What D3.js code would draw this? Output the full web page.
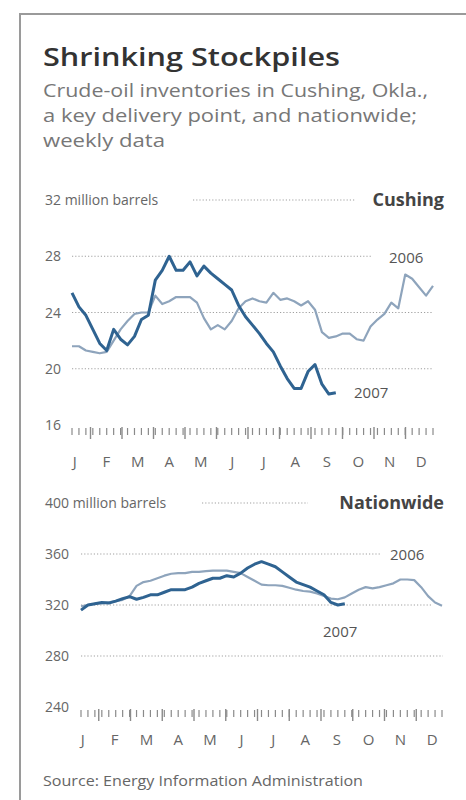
<!DOCTYPE html>
<html>
<head>
<meta charset="utf-8">
<script src="https://cdn.jsdelivr.net/npm/d3@7"></script>
<style>
  body { margin: 0; background: #fff; }
  svg { display: block; font-family: "Open Sans", "Noto Sans", sans-serif; }
</style>
</head>
<body>
<div id="chart"></div>
<script>
// month labels used on both panels
const months = ['J', 'F', 'M', 'A', 'M', 'J', 'J', 'A', 'S', 'O', 'N', 'D'];

// Cushing, million barrels, weekly (2006 full year, 2007 to late September)
const cushing2006 = [21.6, 21.6, 21.3, 21.2, 21.1, 21.2, 22.0, 22.8, 23.4, 23.9, 24.0, 24.0, 25.2,
  24.6, 24.8, 25.1, 25.1, 25.1, 24.7, 23.6, 22.8, 23.1, 22.8, 23.4, 24.3, 24.8, 25.0,
  24.8, 24.7, 25.4, 24.9, 25.0, 24.8, 24.5, 24.8, 24.2, 22.6, 22.2, 22.3, 22.5, 22.5,
  22.1, 22.0, 23.0, 23.5, 23.9, 24.7, 24.3, 26.7, 26.4, 25.8, 25.2, 25.9];
const cushing2007 = [25.4, 24.4, 23.8, 22.8, 21.8, 21.3, 22.8, 22.1, 21.7, 22.3, 23.5, 23.8, 26.3,
  27.0, 28.0, 27.0, 27.0, 27.6, 26.6, 27.3, 26.8, 26.4, 26.0, 25.6, 24.5, 23.7, 23.1,
  22.5, 21.8, 21.2, 20.2, 19.3, 18.6, 18.6, 19.8, 20.3, 18.9, 18.2, 18.3];
const cushingTicks = [16, 20, 24, 28, 32];

// Nationwide, million barrels, weekly
const nation2006 = [319, 320, 321, 321.5, 322, 323, 324, 327, 335, 338, 339, 341, 343,
  344.5, 345, 345, 346, 346, 346.5, 347, 347, 347, 346, 345, 342, 339, 336,
  335.5, 335.5, 335, 333.5, 332, 331, 330.5, 329, 327, 325, 324.5, 326, 329, 332,
  334, 333, 334, 335.5, 337, 340, 340, 339.5, 334, 327, 322, 319.5];
const nation2007 = [316, 320, 321, 322, 321.5, 323, 325, 326.5, 324.5, 326, 328, 328, 330,
  332, 332, 332, 334, 337, 339, 341, 341, 343, 342, 345, 349, 352, 354,
  352, 350, 346, 342, 338, 336, 334, 331, 328, 322, 320, 321];
const nationTicks = [240, 280, 320, 360, 400];

const W = 466, H = 800;
const COLOR_2006 = '#8ea4bc';
const COLOR_2007 = '#2f6391';

const svg = d3.select('#chart').append('svg')
  .attr('width', W)
  .attr('height', H);

// frame: grey rule along top and left
svg.append('path')
  .attr('d', `M20,${H} L20,14 L${W},14`)
  .attr('fill', 'none')
  .attr('stroke', '#9a9a9a')
  .attr('stroke-width', 2);

// headline + chatter
svg.append('text')
  .attr('x', 43).attr('y', 66)
  .attr('font-size', 26).attr('font-weight', 600)
  .attr('fill', '#333')
  .attr('textLength', 297).attr('lengthAdjust', 'spacingAndGlyphs')
  .text('Shrinking Stockpiles');

const chatter = ['Crude-oil inventories in Cushing, Okla.,', 'a key delivery point, and nationwide;', 'weekly data'];
const chatterW = [385, 374, 122];
svg.selectAll('.chatter')
  .data(chatter)
  .enter().append('text')
  .attr('class', 'chatter')
  .attr('x', 43)
  .attr('y', (d, i) => 97 + i * 25)
  .attr('font-size', 19)
  .attr('fill', '#777')
  .attr('textLength', (d, i) => chatterW[i]).attr('lengthAdjust', 'spacingAndGlyphs')
  .text(d => d);

// draws one panel
function drawPanel(cfg) {
  const g = svg.append('g');
  const x = d3.scaleLinear().domain([0, 52]).range(cfg.xRange);
  const y = d3.scaleLinear().domain(cfg.yDomain).range(cfg.yRange);
  const band = d3.scaleBand().domain(d3.range(12)).range(cfg.monthRange);
  const top = cfg.ticks[cfg.ticks.length - 1];

  // dotted gridlines (not the bottom one, it is the tick row)
  cfg.ticks.slice(1).forEach(t => {
    const ext = cfg.gridExt[t];
    g.append('line')
      .attr('x1', ext[0]).attr('x2', ext[1])
      .attr('y1', y(t)).attr('y2', y(t))
      .attr('stroke', '#a0a0a0')
      .attr('stroke-width', 1.2)
      .attr('stroke-dasharray', '1.2,2');
  });

  // y labels
  g.selectAll('.ylab')
    .data(cfg.ticks)
    .enter().append('text')
    .attr('x', 45)
    .attr('y', d => y(d) + 5)
    .attr('font-size', 14)
    .attr('fill', '#666')
    .text(d => d === top ? d + ' million barrels' : d);

  // panel name
  g.append('text')
    .attr('x', 444).attr('y', y(top) + 6)
    .attr('text-anchor', 'end')
    .attr('font-size', 18).attr('font-weight', 700)
    .attr('fill', '#444')
    .text(cfg.name);

  // weekly ticks and month ticks
  const base = y(cfg.ticks[0]);
  g.selectAll('.wk')
    .data(d3.range(53))
    .enter().append('line')
    .attr('x1', d => x(d)).attr('x2', d => x(d))
    .attr('y1', base + 3).attr('y2', base + 10)
    .attr('stroke', '#8a8a8a').attr('stroke-width', 1.2);
  g.selectAll('.mo')
    .data(d3.range(1, 12))
    .enter().append('line')
    .attr('x1', d => band(d)).attr('x2', d => band(d))
    .attr('y1', base + 2).attr('y2', base + 14)
    .attr('stroke', '#8a8a8a').attr('stroke-width', 1.4);

  // month letters
  g.selectAll('.mlab')
    .data(months)
    .enter().append('text')
    .attr('x', (d, i) => band(i) + band.bandwidth() / 2)
    .attr('y', base + cfg.monthDy)
    .attr('text-anchor', 'middle')
    .attr('font-size', 15)
    .attr('fill', '#666')
    .text(d => d);

  const line = d3.line()
    .x((d, i) => x(i))
    .y(d => y(d))
    .curve(d3.curveLinear);

  g.append('path')
    .attr('d', line(cfg.s2006))
    .attr('fill', 'none')
    .attr('stroke', COLOR_2006)
    .attr('stroke-width', 2.2)
    .attr('stroke-linejoin', 'round');

  g.append('path')
    .attr('d', line(cfg.s2007))
    .attr('fill', 'none')
    .attr('stroke', COLOR_2007)
    .attr('stroke-width', 3)
    .attr('stroke-linejoin', 'round');

  // year labels
  cfg.yearLabels.forEach(l => {
    g.append('text')
      .attr('x', l.x).attr('y', l.y)
      .attr('font-size', 15)
      .attr('fill', '#555')
      .text(l.text);
  });
}

drawPanel({
  name: 'Cushing',
  ticks: cushingTicks,
  yDomain: [16, 32],
  yRange: [425, 200],
  xRange: [72, 433],
  monthRange: [59, 437],
  monthDy: 42,
  gridExt: { 20: [72, 433], 24: [72, 433], 28: [72, 372], 32: [193, 356] },
  s2006: cushing2006,
  s2007: cushing2007,
  yearLabels: [{ text: '2006', x: 389, y: 263 }, { text: '2007', x: 354, y: 398 }]
});

drawPanel({
  name: 'Nationwide',
  ticks: nationTicks,
  yDomain: [240, 400],
  yRange: [707, 503],
  xRange: [81, 442],
  monthRange: [67, 448],
  monthDy: 38,
  gridExt: { 280: [81, 443], 320: [81, 433], 360: [81, 380], 400: [202, 308] },
  s2006: nation2006,
  s2007: nation2007,
  yearLabels: [{ text: '2006', x: 390, y: 560 }, { text: '2007', x: 323, y: 637 }]
});

// source line
svg.append('text')
  .attr('x', 43).attr('y', 786)
  .attr('font-size', 14)
  .attr('fill', '#666')
  .attr('textLength', 320).attr('lengthAdjust', 'spacingAndGlyphs')
  .text('Source: Energy Information Administration');
</script>
</body>
</html>
